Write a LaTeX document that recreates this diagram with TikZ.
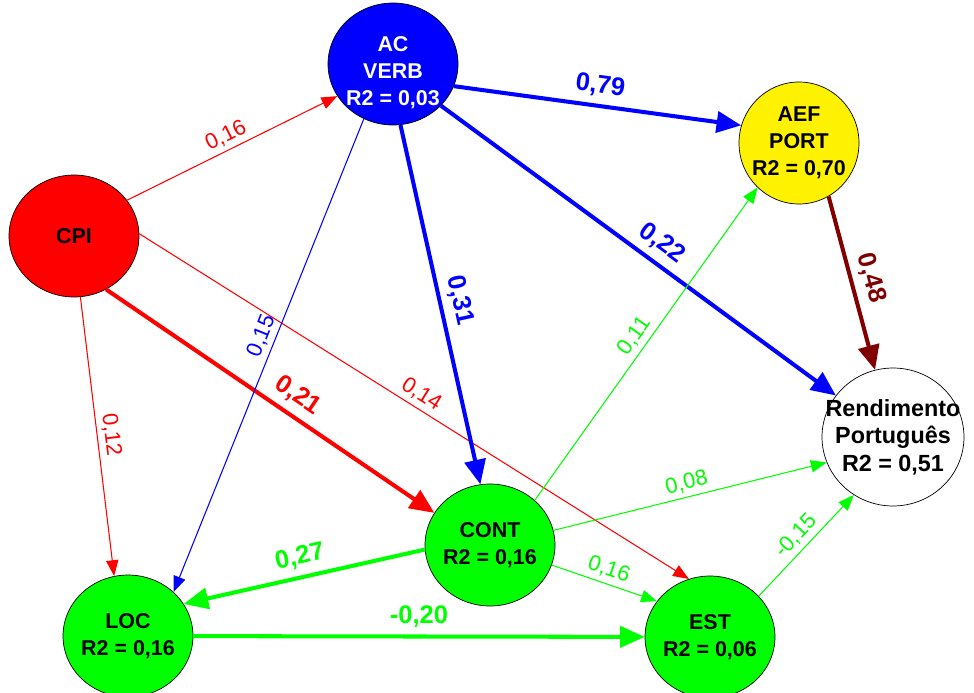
\documentclass[tikz,border=0pt]{standalone}
\usepackage{fontspec}
\setmainfont{Liberation Sans}
\usetikzlibrary{shapes.geometric,arrows.meta}
\definecolor{pathred}{RGB}{128,0,0}

\begin{document}
\begin{tikzpicture}[x=0.02cm,y=-0.02cm,
    var/.style={ellipse,draw,inner sep=0pt,minimum width=2.6cm,minimum height=2.44cm},
    txt/.style={align=center,font=\bfseries\fontsize{12.2}{15.3}\selectfont},
    strong/.style={line width=2.3pt,-{Triangle[length=14pt,width=12pt]}},
    weak/.style={line width=0.6pt,-{Triangle[length=9pt,width=7pt]}},
    lab/.style={sloped,above,inner sep=2.5pt,font=\fontsize{12.5}{14}\selectfont},
    blab/.style={lab,inner sep=4pt,font=\bfseries\fontsize{14.5}{16}\selectfont}]
\useasboundingbox (0,0) rectangle (974,693);

% variables
\node[var,fill=red,label={[txt]center:{CPI}}] (cpi) at (74,236) {};
\node[var,fill=blue,label={[txt,white,yshift=-5pt]center:{AC\\VERB\\R2 = 0,03}}] (ac) at (393,64) {};
\node[var,fill=yellow,minimum width=2.4cm,label={[txt]center:{AEF\\PORT\\R2 = 0,70}}] (aef) at (799,143) {};
\node[var,fill=white,minimum width=2.84cm,minimum height=2.76cm,
  label={[txt,font=\bfseries\fontsize{13.3}{15.6}\selectfont]center:{Rendimento\\Português\\R2 = 0,51}}] (rend) at (893,437) {};
\node[var,fill=green,label={[txt]center:{CONT\\R2 = 0,16}}] (cont) at (490,545) {};
\node[var,fill=green,label={[txt]center:{LOC\\R2 = 0,16}}] (loc) at (128,636) {};
\node[var,fill=green,label={[txt]center:{EST\\R2 = 0,06}}] (est) at (710,637) {};

% paths
\draw[weak,red] (cpi.34) -- node[lab]{0,16} (ac.210);
\draw[weak,red] (cpi.-84) -- node[lab]{0,12} (loc.103);
\draw[strong,red] (cpi.-59) -- node[blab,pos=0.55]{0,21} (cont.150);
\draw[weak,red] (cpi.2) -- node[lab]{0,14} (est.110);
\draw[strong,blue] (ac.-20) -- node[blab]{0,79} (aef.163);
\draw[strong,blue] (ac.-83) -- node[blab]{0,31} (cont.99);
\draw[strong,blue] (ac.-41) -- node[blab,pos=0.53]{0,22} (rend.144);
\draw[weak,blue] (ac.-118) -- node[lab,pos=0.47]{0,15} (loc.44);
\draw[strong,pathred] (aef.-61) -- node[blab]{0,48} (rend.105);
\draw[weak,green] (cont.45) -- node[lab]{0,11} (aef.227);
\draw[weak,green] (cont.13) -- node[lab]{0,08} (rend.201);
\draw[strong,green] (cont.184) -- node[blab]{0,27} (loc.30);
\draw[weak,green] (cont.-18) -- node[lab]{0,16} (est.146);
\draw[strong,green] (loc) -- node[blab]{-0,20} (est);
\draw[weak,green] (est.40) -- node[lab]{-0,15} (rend.236);
\end{tikzpicture}
\end{document}
